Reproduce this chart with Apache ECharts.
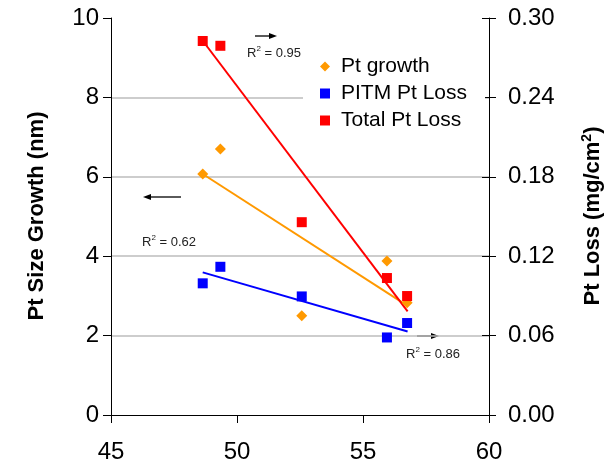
<!DOCTYPE html>
<html>
<head>
<meta charset="utf-8">
<script src="https://cdn.jsdelivr.net/npm/echarts@6/dist/echarts.min.js"></script>
<style>html,body{margin:0;padding:0;background:#fff;}#c{width:611px;height:459px;}</style>
</head>
<body>
<div id="c"></div>
<script>
// ---- data ----
const xValues = [48.64, 49.34, 52.57, 55.95, 56.75];
const ptGrowth = [6.07, 6.70, 2.50, 3.88, 2.83];          // nm (left axis)
const pitmLoss = [0.0995, 0.112, 0.0896, 0.0586, 0.0695];  // mg/cm2 (right axis)
const totalLoss = [0.2826, 0.279, 0.1457, 0.1035, 0.0899]; // mg/cm2 (right axis)
// trend lines (end points as drawn in the reference)
const trendX = [48.64, 56.77];
const trendGrowth = [6.07, 2.75];
const trendPitm = [0.1078, 0.0631];
const trendTotal = [0.2828, 0.0783];
const xTicks = [45, 50, 55, 60];
const leftTicks = [0, 2, 4, 6, 8, 10];
const rightTicks = [0, 0.06, 0.12, 0.18, 0.24, 0.30];
const seriesNames = ['Pt growth', 'PITM Pt Loss', 'Total Pt Loss'];

const FONT = "'Liberation Sans', Arial, sans-serif";
const ORANGE = '#FF9900', BLUE = '#0000FF', RED = '#FF0000';

const pairs = (xs, ys) => xs.map((x, i) => [x, ys[i]]);

const chart = echarts.init(document.getElementById('c'), null, {renderer: 'canvas'});

function arrow(x1, x2, y) {
  const dir = x2 > x1 ? 1 : -1;
  return {
    type: 'group', z: 10,
    children: [
      {type: 'line', shape: {x1: x1, y1: y, x2: x2 - dir * 6, y2: y}, style: {stroke: '#000', lineWidth: 1.3}},
      {type: 'polygon', shape: {points: [[x2, y], [x2 - dir * 8, y - 3], [x2 - dir * 8, y + 3]]}, style: {fill: '#000'}}
    ]
  };
}
function rLabel(x, y, val) {
  return {
    type: 'text', left: x, top: y, z: 10,
    style: {
      text: '{n|R}{s|2}{n| = ' + val + '}',
      font: '13px ' + FONT,
      rich: {
        n: {fontSize: 13, lineHeight: 16, fontFamily: FONT, fill: '#222'},
        s: {fontSize: 8, lineHeight: 8, verticalAlign: 'top', fontFamily: FONT, fill: '#222'}
      }
    }
  };
}

const option = {
  backgroundColor: '#fff',
  animation: false,
  textStyle: {fontFamily: FONT},
  grid: {left: 111, right: 122, top: 18, bottom: 44, containLabel: false, outerBoundsMode: 'none'},
  legend: {
    data: seriesNames,
    orient: 'vertical',
    left: 303, top: 51,
    padding: [5, 18, 5, 17],
    backgroundColor: '#fff',
    itemWidth: 10, itemHeight: 10,
    itemGap: 6,
    textStyle: {fontSize: 21, color: '#000', fontFamily: FONT, padding: [0, 0, 0, 6]},
    z: 5
  },
  xAxis: {
    type: 'value', min: xTicks[0], max: xTicks[xTicks.length - 1], interval: 5,
    axisLine: {show: true, lineStyle: {color: '#000', width: 1}},
    axisTick: {show: true, length: 8, lineStyle: {color: '#000'}},
    axisLabel: {fontSize: 24, color: '#000', margin: 25, fontFamily: FONT},
    splitLine: {show: false}
  },
  yAxis: [
    {
      type: 'value', position: 'left', min: leftTicks[0], max: leftTicks[leftTicks.length - 1], interval: 2,
      axisLine: {show: true, lineStyle: {color: '#000', width: 1}},
      axisTick: {show: true, length: 8, lineStyle: {color: '#000'}},
      axisLabel: {fontSize: 24, color: '#000', margin: 12, fontFamily: FONT},
      splitLine: {show: true, showMinLine: false, showMaxLine: false, lineStyle: {color: '#BDBDBD', width: 1.5}}
    },
    {
      type: 'value', position: 'right', min: rightTicks[0], max: rightTicks[rightTicks.length - 1], interval: 0.06,
      axisLine: {show: true, lineStyle: {color: '#000', width: 1}},
      axisTick: {show: true, length: 7, lineStyle: {color: '#000'}},
      axisLabel: {fontSize: 24, color: '#000', margin: 19, fontFamily: FONT, formatter: v => v.toFixed(2)},
      splitLine: {show: false}
    },
    {
      type: 'value', position: 'right', min: rightTicks[0], max: rightTicks[rightTicks.length - 1], interval: 0.06,
      axisLine: {show: false},
      axisTick: {show: true, inside: true, length: 7, lineStyle: {color: '#000'}},
      axisLabel: {show: false},
      splitLine: {show: false}
    }
  ],
  series: [
    {name: 'trendGrowth', type: 'line', yAxisIndex: 0, data: pairs(trendX, trendGrowth), symbol: 'none',
     lineStyle: {color: ORANGE, width: 2}, silent: true, z: 2},
    {name: 'trendPitm', type: 'line', yAxisIndex: 1, data: pairs(trendX, trendPitm), symbol: 'none',
     lineStyle: {color: BLUE, width: 2}, silent: true, z: 2},
    {name: 'trendTotal', type: 'line', yAxisIndex: 1, data: pairs(trendX, trendTotal), symbol: 'none',
     lineStyle: {color: RED, width: 2}, silent: true, z: 2},
    {name: seriesNames[0], type: 'scatter', yAxisIndex: 0, data: pairs(xValues, ptGrowth),
     symbol: 'diamond', symbolSize: 11, itemStyle: {color: ORANGE, opacity: 1}, z: 3},
    {name: seriesNames[1], type: 'scatter', yAxisIndex: 1, data: pairs(xValues, pitmLoss),
     symbol: 'rect', symbolSize: 10, itemStyle: {color: BLUE, opacity: 1}, z: 3},
    {name: seriesNames[2], type: 'scatter', yAxisIndex: 1, data: pairs(xValues, totalLoss),
     symbol: 'rect', symbolSize: 10, itemStyle: {color: RED, opacity: 1}, z: 3}
  ],
  graphic: [
    {
      type: 'text', x: 37, y: 216, rotation: Math.PI / 2,
      style: {text: 'Pt Size Growth (nm)', font: 'bold 22px ' + FONT, fill: '#000', align: 'center', verticalAlign: 'middle'}
    },
    {
      type: 'text', x: 593, y: 216, rotation: Math.PI / 2,
      style: {
        text: '{t|Pt Loss (mg/cm}{s|2}{t|)}', align: 'center', verticalAlign: 'middle',
        font: 'bold 22px ' + FONT,
        rich: {
          t: {fontSize: 22, fontWeight: 'bold', fontFamily: FONT, lineHeight: 26, fill: '#000'},
          s: {fontSize: 14, fontWeight: 'bold', fontFamily: FONT, lineHeight: 14, verticalAlign: 'top', fill: '#000'}
        }
      }
    },
    arrow(255, 277, 36),
    rLabel(247, 45, '0.95'),
    arrow(181, 143, 197),
    rLabel(142, 234, '0.62'),
    arrow(417, 439, 336),
    rLabel(406, 346, '0.86')
  ]
};
chart.setOption(option);
</script>
</body>
</html>
